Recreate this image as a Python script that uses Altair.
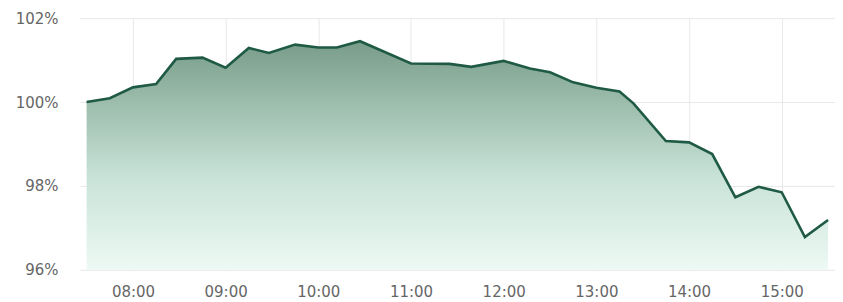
import altair as alt
import pandas as pd

times = ["07:30", "07:45", "08:00", "08:15", "08:28", "08:45", "09:00", "09:15",
         "09:28", "09:45", "10:00", "10:12", "10:27", "11:00", "11:25", "11:39",
         "12:00", "12:17", "12:30", "12:45", "13:00", "13:15", "13:24", "13:45",
         "14:00", "14:15", "14:30", "14:45", "15:00", "15:15", "15:30"]
values = [100.00, 100.09, 100.35, 100.43, 101.03, 101.06, 100.82, 101.29,
          101.17, 101.37, 101.30, 101.30, 101.45, 100.92, 100.91, 100.84,
          100.98, 100.80, 100.71, 100.47, 100.34, 100.25, 99.97, 99.07,
          99.04, 98.76, 97.73, 97.98, 97.85, 96.78, 97.19]
y_ticks = [96, 98, 100, 102]
x_tick_hours = [8, 9, 10, 11, 12, 13, 14, 15]
baseline = 96

df = pd.DataFrame({
    "t": [pd.Timestamp("2024-01-02 " + t) for t in times],
    "v": values,
})
df["b"] = baseline

def dt(h, m, s=0):
    return alt.DateTime(year=2024, month=1, date=2, hours=h, minutes=m, seconds=s)

x = alt.X("t:T",
          scale=alt.Scale(domain=[dt(7, 25, 40), dt(15, 34, 30)]),
          axis=alt.Axis(format="%H:%M", values=[dt(h, 0) for h in x_tick_hours],
                        title=None, ticks=False, domain=False, labelPadding=15,
                        labelFontSize=15, labelColor="#666666",
                        gridColor="#e8e8e8", labelFont="DejaVu Sans"))
y = alt.Y("v:Q",
          scale=alt.Scale(domain=[96, 102], nice=False, zero=False),
          axis=alt.Axis(values=y_ticks, labelExpr="datum.value + '%'",
                        title=None, ticks=False, domain=False, labelPadding=22,
                        labelFontSize=15, labelColor="#666666",
                        gridColor="#e8e8e8", labelFont="DejaVu Sans"))

base = alt.Chart(df)

area = base.mark_area(
    color=alt.Gradient(
        gradient="linear",
        stops=[alt.GradientStop(color="#789d89", offset=0),
               alt.GradientStop(color="#c9e3d8", offset=0.6),
               alt.GradientStop(color="#edf9f4", offset=1)],
        x1=1, x2=1, y1=0, y2=1),
).encode(x=x, y=y, y2="b:Q")

line = base.mark_line(color="#1f5a45", strokeWidth=2.6).encode(x=x, y=y)

chart = (area + line).properties(
    width=756, height=252,
    padding={"left": 72, "top": 10, "right": 0, "bottom": 30},
    autosize=alt.AutoSizeParams(type="none"),
).configure_view(stroke=None)

chart.save("out.html", embed_options={"renderer": "svg", "actions": False})
